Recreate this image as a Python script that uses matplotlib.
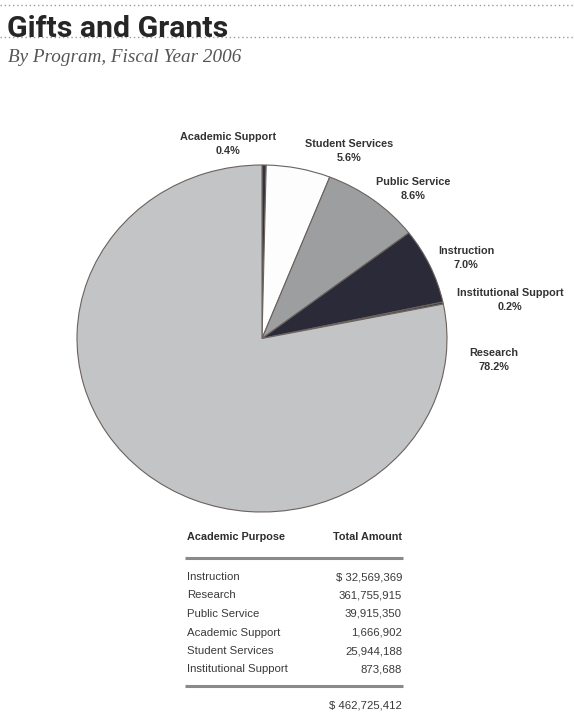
import matplotlib.pyplot as plt

# Gifts and grants by program, FY2006
programs = ["Academic Support", "Student Services", "Public Service",
            "Instruction", "Institutional Support", "Research"]
amounts = [1666902, 25944188, 39915350, 32569369, 873688, 361755915]
slice_colors = ["#34343e", "#fdfdfd", "#9c9ea0", "#2b2a38", "#3a3a44", "#c2c4c6"]

# table rows (listed in a different order than the pie)
table_rows = ["Instruction", "Research", "Public Service",
              "Academic Support", "Student Services", "Institutional Support"]

W, H = 574, 723
fig = plt.figure(figsize=(W / 100, H / 100), dpi=100)
fig.patch.set_facecolor("white")

# pixel-space canvas for title, rules and table
bg = fig.add_axes([0, 0, 1, 1])
bg.set_xlim(0, W)
bg.set_ylim(H, 0)
bg.axis("off")

# ---- header ----
bg.plot([0, W], [5, 5], ls=(0, (1, 2)), color="#9a9a9a", lw=1.0)
bg.plot([0, W], [37, 37], ls=(0, (1, 2)), color="#9a9a9a", lw=1.0)
bg.text(7, 37, "Gifts and Grants", fontsize=21.8, fontweight="bold",
        family=["Roboto", "DejaVu Sans"], color="#262626",
        ha="left", va="baseline")
bg.text(8, 57, "By Program, Fiscal Year 2006", fontsize=13.8, style="italic",
        family=["Liberation Serif", "DejaVu Serif"], color="#555555",
        ha="left", va="center")

# ---- pie (slightly wider than tall) ----
px0, px1, py0, py1 = 77, 447, 165, 512
pie_ax = fig.add_axes([px0 / W, 1 - py1 / H, (px1 - px0) / W, (py1 - py0) / H])
total = sum(amounts)
pie_ax.pie(amounts, colors=slice_colors, startangle=90, counterclock=False,
           radius=1.0, wedgeprops=dict(edgecolor="#6b625e", linewidth=0.8))
pie_ax.set_aspect("auto")
pie_ax.set_xlim(-1, 1)
pie_ax.set_ylim(-1, 1)

# label anchors in pie data units
label_xy = [(-0.184, 1.121), (0.470, 1.081), (0.816, 0.862),
            (1.103, 0.464), (1.340, 0.222), (1.254, -0.124)]
for name, amt, (lx, ly) in zip(programs, amounts, label_xy):
    pie_ax.text(lx, ly, f"{name}\n{100 * amt / total:.1f}%", ha="center",
                va="center", fontsize=7.8, fontweight="bold", color="#333333",
                family=["Liberation Sans", "DejaVu Sans"], linespacing=1.45,
                clip_on=False)

# ---- table ----
tfont = ["Liberation Sans", "DejaVu Sans"]
left_x, right_x = 187, 402
bg.text(left_x, 537, "Academic Purpose", fontsize=7.8, fontweight="bold",
        family=tfont, color="#2e2e2e", ha="left", va="center")
bg.text(right_x, 537, "Total Amount", fontsize=7.8, fontweight="bold",
        family=tfont, color="#2e2e2e", ha="right", va="center")
bg.plot([185, 403], [558, 558], color="#8a8a8a", lw=2.2, solid_capstyle="butt")

lookup = dict(zip(programs, amounts))
row_y0, row_step = 577, 18.5
for i, name in enumerate(table_rows):
    y = row_y0 + i * row_step
    val = f"{lookup[name]:,}"
    if i == 0:
        val = "$ " + val
    bg.text(left_x, y, name, fontsize=8.2, family=tfont, color="#3a3a3a",
            ha="left", va="center")
    bg.text(right_x, y, val, fontsize=8.2, family=tfont, color="#3a3a3a",
            ha="right", va="center")

bg.plot([185, 403], [686, 686], color="#8a8a8a", lw=2.2, solid_capstyle="butt")
bg.text(right_x, 706, f"$ {total:,}", fontsize=8.2, family=tfont,
        color="#3a3a3a", ha="right", va="center")

fig.savefig("out.png", dpi=100)
